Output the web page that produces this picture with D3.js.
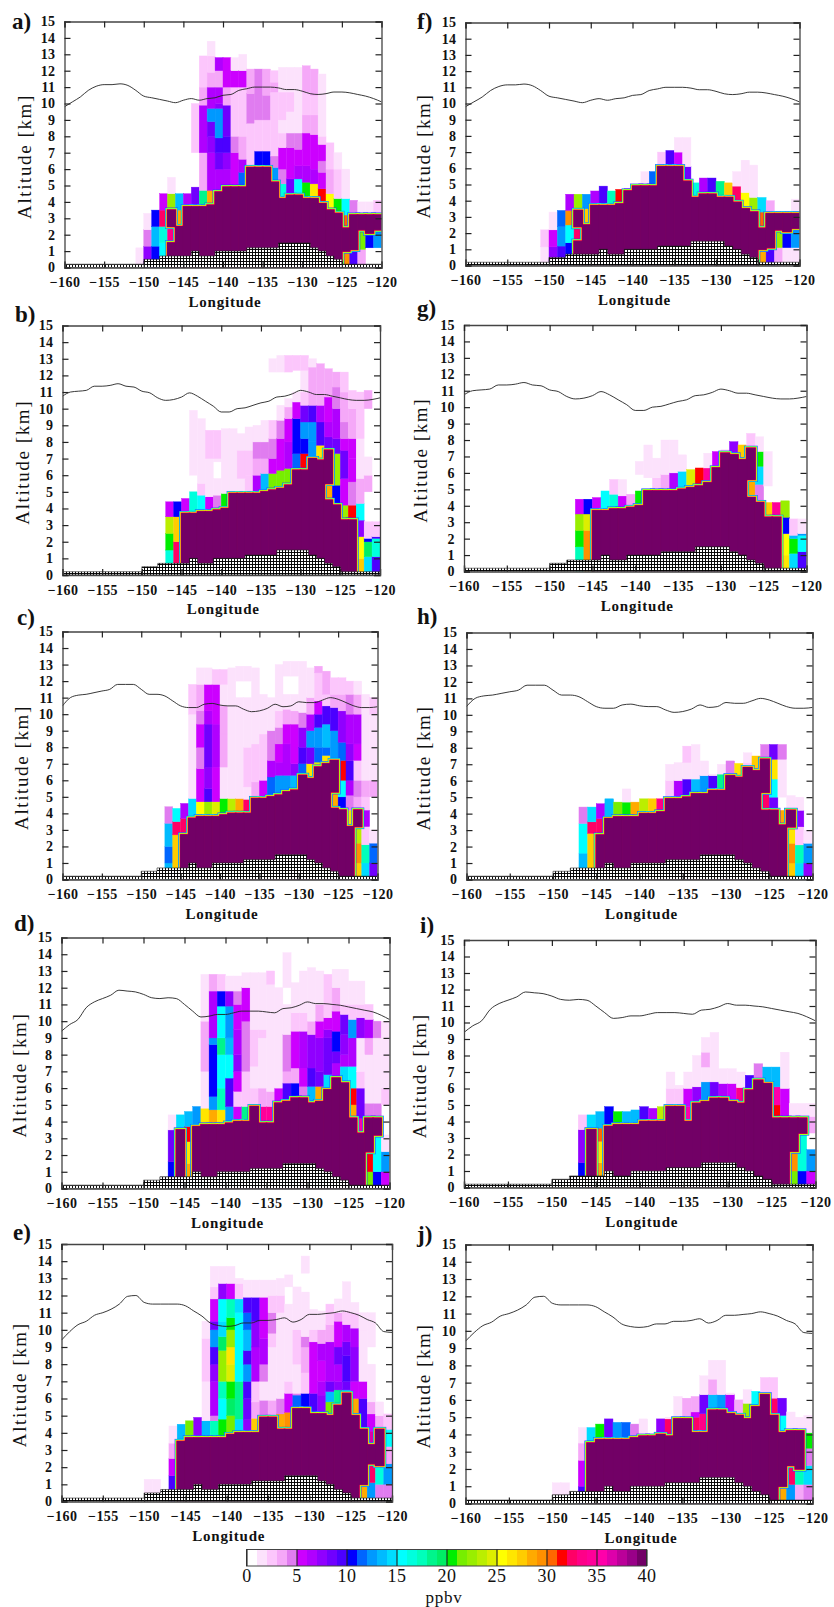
<!DOCTYPE html>
<html>
<head>
<meta charset="utf-8">
<script src="https://cdn.jsdelivr.net/npm/d3@7"></script>
<style>
body { margin: 0; background: #fff; }
text { font-family: "Liberation Serif", serif; fill: #111; }
.tick text { font-weight: bold; font-size: 14px; letter-spacing: 0.4px; }
</style>
</head>
<body>
<svg id="chart" width="834" height="1607"></svg>
<script>
// tick labels
var lonTicks = [-160, -155, -150, -145, -140, -135, -130, -125, -120];
var altTicks = [0, 1, 2, 3, 4, 5, 6, 7, 8, 9, 10, 11, 12, 13, 14, 15];
var barTicks = [0, 5, 10, 15, 20, 25, 30, 35, 40];

// colour of each 1 ppbv class, 0 to 39
var ppbvColors = ["#ffffff", "#fce2fc", "#fcc6fc", "#f5a8f8", "#e07cf0",
    "#cc00ff", "#b000ff", "#9000ff", "#7000ff", "#4c00ff",
    "#0000ff", "#0066ff", "#0099ff", "#00bbff", "#00ddff",
    "#00ffff", "#00ffdd", "#00ffbb", "#00f58c", "#00ee66",
    "#00ee00", "#77ee00", "#99ee00", "#bbee00", "#ddee00",
    "#ffff00", "#ffe600", "#ffcc00", "#ffaa00", "#ff9000",
    "#ff6600", "#ff0000", "#ff0066", "#ff0088", "#ff0099",
    "#ff00aa", "#dd00aa", "#bb0099", "#990088", "#720066"];

// ground height [km], one value per degree from -160
var terrainHeight = [0.2, 0.2, 0.2, 0.2, 0.2, 0.2, 0.2, 0.2, 0.2, 0.2,
    0.5, 0.5, 0.7, 0.7, 0.7, 0.7, 1, 0.7, 0.7, 1,
    1, 1, 1, 1.2, 1.2, 1.2, 1.2, 1.5, 1.5, 1.5,
    1.5, 1.2, 1, 0.7, 0.5, 0.2, 0.2, 0.2, 0.2, 0.2, 0.2];

// tropopause [km], one value per degree from -160
var tropopauseA = [9.8, 10.1, 10.4, 10.8, 11.05, 11.15, 11.15, 11.2, 11.1, 10.8, 10.45, 10.35, 10.25, 10.15, 10.05, 10.2, 10.3, 10.2, 10.3, 10.35, 10.5, 10.55, 10.8, 10.9, 11, 11, 11, 10.95, 10.85, 10.85, 10.75, 10.6, 10.55, 10.6, 10.7, 10.7, 10.65, 10.55, 10.45, 10.3, 10.1];
var tropopauseB = [10.75, 11, 11.05, 11.1, 11.35, 11.35, 11.4, 11.5, 11.35, 11.3, 11.05, 10.95, 10.65, 10.5, 10.55, 10.7, 10.95, 10.75, 10.45, 10.15, 9.8, 9.8, 10, 10.05, 10.2, 10.35, 10.45, 10.7, 10.75, 10.9, 11.1, 11, 10.85, 10.85, 10.75, 10.65, 10.55, 10.5, 10.5, 10.55, 10.65];
var tropopauseC = [10.5, 11, 11.15, 11.2, 11.3, 11.4, 11.5, 11.8, 11.8, 11.8, 11.5, 11.2, 11.2, 11.1, 10.8, 10.5, 10.4, 10.4, 10.6, 10.65, 10.55, 10.5, 10.5, 10.3, 10.15, 10.2, 10.35, 10.6, 10.45, 10.5, 10.75, 10.7, 10.7, 10.85, 11, 10.9, 10.7, 10.5, 10.4, 10.4, 10.45];
var tropopauseD = [9.4, 9.8, 10.1, 10.8, 11.15, 11.35, 11.55, 11.85, 11.8, 11.75, 11.6, 11.4, 11.35, 11.4, 11.35, 11, 10.6, 10.25, 10.3, 10.4, 10.4, 10.5, 10.6, 10.6, 10.6, 10.55, 10.5, 10.75, 10.8, 10.95, 11.15, 11.05, 11.05, 11, 10.95, 10.85, 10.75, 10.65, 10.55, 10.35, 10.1];
var tropopauseE = [9.4, 9.9, 10.3, 10.5, 10.85, 11, 11.2, 11.5, 11.95, 12, 11.6, 11.5, 11.5, 11.5, 11.5, 11.4, 11.1, 10.8, 10.4, 10.25, 10.2, 10.25, 10.4, 10.4, 10.55, 10.55, 10.6, 10.7, 10.45, 10.6, 10.9, 10.9, 10.95, 11, 11.1, 11, 10.85, 10.6, 10.4, 9.9, 9.85];

// one list per degree column from -152: ppbv, top [km], ppbv, top [km], ... going up from the ground
var columnsA = [[],
    [1,1.2], [7,1.3,4,2.3,1,3.3], [10,1.3,13,2.5,10,3.5], [15,1.5,16,2.5,32,3.5,5,4.5], [39,1.5,33,2.5,39,3.5,22,4.5,1,5.5],
    [39,2.5,28,3.5,13,4.5], [39,3.7,6,4.5], [39,3.7,8,4.9,0,7,2,10], [39,3.7,18,4.7,3,7,6,9.9,3,11,2,12.9],
    [39,3.8,28,4.7,6,7,7,8,8,8.9,12,9.7,6,11,3,11.9,2,12.9,1,13.8], [39,4.6,6,6,8,7,9,7.9,12,9.7,7,10,6,11,3,12,6,12.8],
    [39,4.9,6,6,7,7,9,8,8,9.9,3,11,5,12.8], [39,4.9,5,7,4,8,2,11,5,12,1,12.8], [39,4.9,11,5.8,6,6.6,3,8,2,11,5,12,1,13],
    [39,6.1,2,8.8,4,10.6,3,12.1], [39,6.1,10,7.1,2,9,4,12.1], [39,6.1,10,7.1,2,9,4,10.5,3,12.1],
    [39,5.2,12,6.1,4,6.8,2,10.7,3,11.3,2,12], [39,4.2,16,5.1,4,6,5,7.3,2,8.2,1,9,2,10.7,1,12.2], [39,4.4,8,5.4,5,7.3,4,8.2,1,9.5,2,10.7,1,12.2],
    [39,4.4,15,5.4,6,6.2,5,7.2,4,8.2,1,12.2], [39,4.2,20,5.2,6,6.2,5,8.2,3,9.3,2,10.7,3,12.3], [39,4.2,26,5.1,6,6,5,8.1,3,9.3,2,10.5,3,12.1],
    [39,3.9,31,4.8,5,5.8,4,6.5,5,7.5,2,8,1,11.8], [39,3.5,25,4.5,3,6,2,7.6], [39,3.3,20,4.2,2,6,1,7],
    [29,1,39,2.4,30,3.2,15,4.2,1,6], [9,1.1,39,3.2,4,4.1], [3,1.1,21,2.3,39,3.2,1,4], [0,1.2,10,2.1,39,3.2,1,4], [0,1.2,12,2.3,39,3.2,2,4.1]];

var columnsB = [[], [], [], [], [],
    [16,1.5,20,2.5,23,3.5,5,4.4], [32,2,27,3.5,10,4.4], [39,3.7,5,4.6], [39,3.7,16,5,0,6,1,9.9], [39,3.8,15,4.8,2,5.5,1,9.4],
    [39,3.8,5,4.7,1,7,2,8.7], [39,3.9,4,4.8,1,5.8,0,6.8,1,7,2,8.7], [39,4,20,4.9,1,8.8], [39,4.9,1,8.8], [39,4.9,1,5.8,2,7.5,1,8.5],
    [39,4.9,2,6,2,7.5,1,8.9], [39,4.9,6,6,3,7,4,8,1,9], [39,5,13,6.1,3,7,4,8,1,9.3], [39,5.1,21,6.1,5,7,4,8.2,2,9.3,0,12.2,1,13],
    [39,5.2,21,6.3,5,8.2,4,9.3,1,10.2,0,12.2,1,13.2], [39,5.4,21,6.4,6,8,5,9.4,3,10.1,1,10.6,0,12.2,2,13.2],
    [39,6.3,11,7.3,10,9.4,5,10.4,1,11,0,12.3,2,13.2], [39,6.3,31,7.3,10,8.2,12,9.2,8,10.2,2,11,1,12.3,2,13.2], [39,7,12,8,12,9.2,9,10.2,3,12.5,1,13],
    [39,6.9,26,7.8,9,9.2,6,10.2,3,12.7], [39,4.5,28,5.5,39,7.5,8,8.3,6,9.2,5,10.7,3,12.4], [39,4.2,10,5.4,22,7.3,8,8.2,6,10,4,11.3,3,12.2],
    [39,3.3,22,4.2,5,5.8,8,7.5,5,8.2,4,9.2,3,11,2,12.2], [39,3.3,31,4.2,4,5.6,5,7,5,8.2,3,10,2,11.1], [27,1,25,2.3,7,3.3,15,4.3,3,5.8,1,8.2,2,11],
    [14,1.1,19,2,10,2.2,2,3.2,0,5,3,6,1,7.1,0,10,3,11.1], [9,1.1,16,2.2,9,2.3,2,3.2]];

var columnsC = [[], [], [], [], [],
    [13,1,11,2,13,3.4,4,4.4], [27,2.7,32,3.5,15,4.3], [39,2.7,32,3.7,6,4.6], [39,3.7,14,4.9,1,10,2,11.8], [39,3.8,25,4.7,5,6.7,4,8,5,9.4,4,10.2,3,11.8,1,12.8],
    [39,3.8,22,4.7,9,5.5,7,6.8,8,9.4,6,10.2,5,11.8,1,12.8], [39,3.8,24,4.7,5,6.8,6,9.4,5,11.8,2,12.7], [39,3.9,20,4.9,1,6.8,3,8.8,3,10.5,1,11.8,2,12.7],
    [39,4,23,4.9,1,6.8,1,12.8], [39,4,28,4.9,1,11,0,12,1,12.9], [39,4,32,4.85,1,5.6,2,8,1,11,0,12,1,12.9], [39,4.9,3,5.9,2,8.2,1,12.8],
    [39,4.9,5,6,2,8.8,1,11.2], [39,5,11,6.2,6,7.2,4,9,1,11], [39,5.1,12,6.3,6,7.1,5,8.2,4,9.2,2,10.2,1,13], [39,5.3,12,6.3,6,8.2,5,9.4,3,10.3,1,11.2,0,12.3,1,13.2],
    [39,5.4,13,6.3,7,7,5,9.4,3,10.2,1,11.2,0,12.3,1,13.2], [39,6.3,11,7,9,8,7,9.2,4,10.1,1,13.2], [39,6.1,26,7,8,8,12,9,6,10,3,11,1,12.8],
    [39,6.8,24,7.1,11,8,12,9.2,9,10,5,10.8,2,12.5,3,12.9], [39,7,26,7.5,11,8,13,9.4,9,10.5,2,11.2,3,12.6], [39,4.3,28,5.3,39,7.2,12,9,9,10.4,3,11.2,2,12.2],
    [39,4.2,10,5,15,6,31,7.2,11,8.3,7,10.2,3,11.2,2,12.2], [39,3.2,26,4.2,4,5.1,6,6,9,7.2,7,8.2,6,10,4,11.2,2,12], [27,1,29,2.2,23,3.2,39,4.2,3,5,4,6,2,7.2,5,8.2,6,10,3,11.2,1,12],
    [14,1,17,2.1,2,3.2,6,4.2,2,5,3,6,1,11.2], [8,1,11,2.2,1,3,0,5,3,6,1,10,2,11]];

var columnsD = [[], [], [], [], [],
    [10,1.6,8,3.5,1,4.4], [39,3.5,14,4.4], [28,1.5,26,2.8,31,3.7,13,4.6], [39,3.7,12,4.9], [39,3.8,26,4.8,1,7,3,10,1,12.8],
    [39,3.8,28,4.7,12,5.5,10,8.6,12,9,6,11.8,3,12.8], [39,3.8,26,4.7,17,6,15,8,18,9,15,10.9,10,11.8,2,12.8], [39,3.9,12,4.9,9,6.6,15,8,13,9,12,10.9,7,11.8,1,12.7],
    [39,4,5,4.9,2,5.8,5,7,7,8,6,9.5,5,11,4,11.8,1,12.7], [39,4,18,4.9,2,7,4,10,5,12,1,12.9], [39,4.9,2,6,1,7.3,2,9.5,1,12.9],
    [39,3.9,34,4.9,3,6,1,9,2,9.5,1,12.9], [39,3.9,34,4.9,3,5.8,1,12.2,2,13], [39,5.1,5,6,1,12,0,12.5], [39,5.2,9,6.3,3,7,4,9.2,1,11,0,12,1,14.1],
    [39,5.4,10,6.3,3,7.2,5,9.4,2,10.5,1,12.3], [39,5.4,4,6.1,5,7.2,6,9.4,2,10.5,1,13], [39,5.1,13,6.1,9,7.2,7,9.2,3,10,1,13.2],
    [39,5.2,28,6.1,8,7,7,9,5,10,3,11,1,13], [39,5.9,14,6.8,8,7.5,8,9,7,9.5,5,10.2,2,12.8], [39,6.6,6,7.5,8,8.2,10,9.4,5,10.6,3,12,1,13.1],
    [39,6.3,14,7.3,6,8,7,9.2,8,10.4,2,11,1,13.1], [39,4.2,28,5,31,6,15,7.3,6,9,12,10.1,2,11,1,12.4], [39,3.3,35,4.2,8,6,2,7,1,9,7,10.2,2,11,1,12.4],
    [21,1,31,2.2,39,4.2,4,5.1,1,8,3,9,6,10.1,2,11], [10,1,15,3.2,39,4.2,4,5.1,1,9,4,10], [5,1,12,2.2,1,3.2,0,5,2,6,1,10]];

var columnsE = [[], [], [1,1.3], [1,1.3], [],
    [9,1.5,5,2.5,3,3.4,1,4.4], [39,3.5,13,4.5], [39,3.7,21,4.7], [39,3.7,7,4.9], [39,3.7,13,4.7,1,7,2,9.5,1,10.5],
    [39,3.7,17,4.7,4,5,6,7,7,8,9,9,12,10,8,10.5,5,11.8,2,12.5,1,13.7], [39,3.7,20,4.8,15,6,17,7,22,8.8,19,9.6,14,10.5,15,11.8,7,12.7,1,13.7],
    [39,3.9,21,5,19,6,20,7,24,8,26,9,22,10,20,10.7,17,11.8,5,12.7,1,13.7], [39,4,14,4.8,18,7,15,11,14,11.8,2,12.7,1,13],
    [39,4,7,4.8,8,6,9,7,12,8,9,8.8,13,10,11,11,9,11.9,1,12.9], [39,4,27,4.85,3,5.8,2,7,6,9,7,10.5,9,11.9,1,12.9],
    [39,4.9,4,5.9,1,7,4,8,6,9.5,5,11.9,1,12.9], [39,4.9,3,5.9,1,9,2,9.8,4,11,2,12,1,12.9], [39,4.2,28,5.1,4,6,1,11,2,12,1,13],
    [39,4.2,29,5.2,5,6.3,2,7,1,11.5,0,12.5,1,13.2], [39,5.4,11,6.2,4,6.3,1,8,2,10,1,12.5], [39,5.4,10,6.3,2,7.5,3,9,4,9.6,1,12.2,0,13.3,1,14.3],
    [39,5.1,9,6.3,5,9.3,2,10,1,11.2], [39,5.1,7,6.2,6,7,5,8.2,6,9.2,3,10,1,11.1], [39,5,21,5.8,13,6.4,8,7,6,9.3,3,10.3,2,11.5],
    [39,5.6,18,6.5,7,7,6,8,8,9,5,10.5,3,11,1,11.8], [39,6.3,14,6.5,8,7,9,8.5,8,9.3,6,10.3,2,11.1,1,12.8], [39,5,28,6,5,7,7,9,6,10.1,2,11,1,11.6],
    [28,1,39,4.2,9,6,5,7,1,10,1,11], [12,1.1,32,2.2,39,3.3,36,4.1,5,5.1,3,5.8,1,8,0,9,1,11], [4,1,16,2.1,39,4.2,3,5,1,5.8], [4,1,12,2.2,3,3.2,15,4.2,2,5.1]];

var columnsF = [[],
    [1,1.15,2,2.2], [7,1.15,5,2.2,1,3.3], [9,1.2,12,2.4,11,3.4], [10,1.4,15,2.5,29,3.4,6,4.4], [39,1.5,32,2.4,39,3.4,22,4.4],
    [39,2.5,27,3.5,12,4.4], [39,3.7,6,4.6], [39,3.7,9,4.9], [39,3.7,17,4.6], [39,3.8,31,4.7], [39,4.6,5,4.75], [39,4.9,8,5],
    [39,4.9,6,5,1,5.8], [39,4.9,11,5.8], [39,6.1,2,7], [39,6.1,9,7.1], [39,6.1,5,7,1,7.9], [39,5.2,8,6.1,1,7.9], [39,4.2,16,5.1],
    [39,4.4,6,5.4], [39,4.4,9,5.4], [39,4.2,18,5.2], [39,4.2,27,5.1], [39,3.9,32,4.9,1,5.8], [39,3.5,25,4.5,1,6.5], [39,3.3,22,4.2,1,6.2],
    [28,1,39,2.3,30,3.3,14,4.2], [9,1.1,39,3.2,3,4], [3,1.1,22,2.2,39,3.2], [1,1.1,10,2.1,39,3.2], [1,1.1,12,2.3,39,3.2,1,4.1]];

var columnsG = [[], [], [], [], [],
    [17,1.5,20,2.5,22,3.5,5,4.4], [29,2.5,24,3.5,10,4.4], [39,3.7,5,4.5], [39,3.7,15,4.9], [39,3.8,16,4.7,2,5.6], [39,3.8,5,4.6,1,5.6], [39,3.9,3,4.7],
    [39,4,20,4.9,0,5.9,1,6.7], [39,4.9,0,5.7,1,7.7], [39,4.9,2,5.7,1,6.9], [39,4.9,3,5.9,1,8], [39,4.9,6,6,1,8], [39,5,14,6.1,1,7.1], [39,5.1,24,6.2],
    [39,5.2,31,6.3], [39,5.4,34,6.3,1,7.2], [39,6.3,5,7.3], [39,7.2,2,7.4], [39,7.1,7,7.9], [39,6.8,27,7.7], [39,4.5,28,5.6,39,7.5,2,8.4],
    [39,4.2,4,5.3,14,6.4,20,7.3,1,8.2], [39,3.3,27,4.2,0,5.2,1,7.3], [39,3.3,34,4.2], [26,1,25,2.3,10,3.3,22,4.3], [14,1.1,20,2,13,2.2,2,3.2], [9,1.2,15,2.2,12,2.3,1,3.2]];

var columnsH = [[], [], [], [], [],
    [13,1.6,15,3.4,4,4.4], [27,2.8,32,3.5,14,4.4], [39,2.7,32,3.7,6,4.6], [39,3.7,13,4.9], [39,3.8,21,4.7], [39,3.8,20,4.7,1,5.5], [39,3.8,28,4.7],
    [39,4,23,4.9], [39,4,27,4.9], [39,4.1,33,4.9], [39,4.9,2,6,1,7], [39,4.9,6,6,1,7.1], [39,5,9,6.1,1,7.1,2,8.1], [39,5.2,13,6.1,1,8.2], [39,5.2,12,6.3,1,7.2],
    [39,5.4,9,6.3,1,6.4], [39,5.4,18,6.4,1,7], [39,6.3,4,7.2], [39,6.2,26,7.05], [39,6.8,2,7.1,1,7.7], [39,6.6,27,7.5], [39,4.2,32,5.3,39,7.3,4,8.2],
    [39,4.2,8,5,15,6.1,26,7.3,8,8.2], [39,3.3,28,4.2,0,5,1,7.3,4,8.2], [27,1,29,2.2,26,3.2,39,4.2,1,5.1], [14,1,17,2.1,2,3.2,7,4.2,1,5], [7,1,12,2.2,1,3]];

var columnsI = [[], [], [], [], [],
    [10,1.5,7,3.5,2,4.4], [39,3.5,14,4.4], [28,1.5,26,2.8,30,3.6,13,4.6], [39,3.7,10,4.9], [39,3.8,20,4.6], [39,3.8,13,4.6], [39,3.8,13,4.7], [39,4,9,4.9],
    [39,4,6,4.8], [39,4,23,4.9], [39,4.9,2,6,1,7], [39,4.9,2,6,1,6.2], [39,4,35,4.9,5,6,1,7], [39,5.1,7,6.1,1,8], [39,5.2,12,6.4,1,7.3,3,8.2,1,9.1],
    [39,5.4,8,6.4,1,9.4], [39,5.4,6,6.3,1,7.2], [39,5.2,5,6.3,1,7.2], [39,5.1,33,6.05,1,7], [39,5.9,9,6.8], [39,6.5,4,7.5], [39,6.3,13,7.3],
    [39,4.2,31,5,35,6.1,13,7.3], [39,4.2,5,6,1,8.2], [21,1,29,2.2,39,4.2,1,5.1], [10,1,16,3.3,39,4.2,1,5.1], [5,1,12,2.3,0,3.3,3,4.3,1,5.1]];

var columnsJ = [[], [], [1,1.2], [1,1.2], [],
    [9,1,5,2.5,3,3.5,1,4.4], [39,3.5,14,4.4], [39,3.7,20,4.6], [39,3.7,8,4.9], [39,3.7,12,4.7], [39,3.7,11,4.7], [39,3.8,4,4.6], [39,3.9,10,4,1,4.9],
    [39,3.9,10,4], [39,4,7,4.9], [39,3.9,32,4.9,1,5], [39,4.9,1,6.2], [39,4.9,3,6.1], [39,4.1,32,5,5,5.3,3,6.2], [39,4.1,33,5.2,8,6.3,1,7.4],
    [39,5.4,13,6.3,3,7.2,1,8.3], [39,5.4,12,6.3,1,8.3], [39,5.2,6,6.3,1,6.4], [39,5.1,3,6], [39,4.9,22,5.8,1,6.6], [39,5.6,15,6.5], [39,6.3,10,6.4,2,7.3],
    [39,5.1,32,6.1,2,7.3], [28,1,39,4.1,15,5.1,8,6.1], [12,1.1,32,2.2,39,4.2,1,5.3], [3,1.1,17,2,39,4.2,1,5], [4,1.1,14,2.2,4,3.2,20,4.1,1,5.1]];

var lonStart = -152;
var darkClass = 39;

// page layout of the ten frames
var panels = [
    {name: "a)", cols: columnsA, trop: tropopauseA, x0: 64.5, x1: 381.5, y0: 21.5, y1: 267.5, titleX: 27, nameX: 12, nameY: 29},
    {name: "b)", cols: columnsB, trop: tropopauseB, x0: 62.5, x1: 380, y0: 325.5, y1: 575, titleX: 25, nameX: 15, nameY: 322},
    {name: "c)", cols: columnsC, trop: tropopauseC, x0: 62.5, x1: 377.5, y0: 631.5, y1: 879.5, titleX: 24, nameX: 17, nameY: 625},
    {name: "d)", cols: columnsD, trop: tropopauseD, x0: 61.5, x1: 389.5, y0: 937.5, y1: 1188.5, titleX: 22, nameX: 14, nameY: 931},
    {name: "e)", cols: columnsE, trop: tropopauseE, x0: 61.5, x1: 392, y0: 1244, y1: 1501.5, titleX: 22, nameX: 13, nameY: 1240},
    {name: "f)", cols: columnsF, trop: tropopauseA, x0: 465.5, x1: 799.5, y0: 22.5, y1: 265.5, titleX: 426, nameX: 417, nameY: 29},
    {name: "g)", cols: columnsG, trop: tropopauseB, x0: 464, x1: 806.5, y0: 325, y1: 571.5, titleX: 423, nameX: 417, nameY: 316},
    {name: "h)", cols: columnsH, trop: tropopauseC, x0: 466.5, x1: 812.5, y0: 632.5, y1: 879.5, titleX: 426, nameX: 417, nameY: 624},
    {name: "i)", cols: columnsI, trop: tropopauseD, x0: 464, x1: 815.5, y0: 940, y1: 1187.5, titleX: 422, nameX: 420, nameY: 933},
    {name: "j)", cols: columnsJ, trop: tropopauseE, x0: 465.5, x1: 812.5, y0: 1244.5, y1: 1503.5, titleX: 426, nameX: 417, nameY: 1242}
];

var svg = d3.select("#chart");
var defs = svg.append("defs");

defs.append("filter").attr("id", "soft")
    .attr("x", "-5%").attr("y", "-5%").attr("width", "110%").attr("height", "110%")
    .append("feGaussianBlur").attr("stdDeviation", 0.4);

// hatching used for the ground
var hatch = defs.append("pattern").attr("id", "hatch")
    .attr("patternUnits", "userSpaceOnUse").attr("width", 3).attr("height", 3);
hatch.append("rect").attr("width", 3).attr("height", 3).attr("fill", "#fff");
hatch.append("path").attr("d", "M0.5 0V3M0 0.5H3").attr("stroke", "#000").attr("stroke-width", 0.95);

svg.append("rect").attr("width", 834).attr("height", 1607).attr("fill", "#fff");

panels.forEach(function (p, n) {
    drawPanel(p, n);
});
drawColorbar();

function drawPanel(p, n) {
    var x = d3.scaleLinear().domain([-160, -120]).range([p.x0, p.x1]);
    var y = d3.scaleLinear().domain([0, 15]).range([p.y1, p.y0]);

    defs.append("clipPath").attr("id", "clip" + n).append("rect")
        .attr("x", p.x0).attr("y", p.y0)
        .attr("width", p.x1 - p.x0).attr("height", p.y1 - p.y0);

    // columns -> cells
    var cells = [];
    p.cols.forEach(function (col, i) {
        var z = 0;
        for (var k = 0; k < col.length; k += 2) {
            if (col[k] > 0) {
                cells.push({lon: lonStart + i, z0: z, z1: col[k + 1], v: col[k]});
            }
            z = col[k + 1];
        }
    });
    var dark = cells.filter(function (d) { return d.v == darkClass; });
    var light = cells.filter(function (d) { return d.v != darkClass; });

    var plot = svg.append("g").attr("clip-path", "url(#clip" + n + ")");
    var soft = plot.append("g").attr("filter", "url(#soft)");

    function addRects(g, data) {
        return g.selectAll("rect").data(data).enter().append("rect")
            .attr("x", function (d) { return x(d.lon); })
            .attr("y", function (d) { return y(d.z1); })
            .attr("width", function (d) { return x(d.lon + 1) - x(d.lon); })
            .attr("height", function (d) { return y(d.z0) - y(d.z1); });
    }

    addRects(soft.append("g"), light)
        .attr("fill", function (d) { return ppbvColors[d.v]; })
        .attr("stroke", function (d) { return ppbvColors[d.v]; })
        .attr("stroke-width", 0.4);

    // thin rainbow edge round the saturated block
    [["#3030ff", 5], ["#00ffff", 4.2], ["#66ff00", 3.4], ["#ffff00", 2.8], ["#ff0050", 1.9]].forEach(function (edge) {
        addRects(soft.append("g"), dark)
            .attr("fill", edge[0]).attr("stroke", edge[0]).attr("stroke-width", edge[1]);
    });
    addRects(soft.append("g"), dark)
        .attr("fill", ppbvColors[darkClass])
        .attr("stroke", ppbvColors[darkClass]).attr("stroke-width", 0.9);

    // ground
    var area = d3.area().curve(d3.curveStepAfter)
        .x(function (d, i) { return x(-160 + i); })
        .y0(y(0))
        .y1(function (d) { return y(d); });
    plot.append("path").datum(terrainHeight).attr("d", area)
        .attr("fill", "url(#hatch)").attr("stroke", "#222").attr("stroke-width", 0.6);

    // tropopause
    var line = d3.line().curve(d3.curveMonotoneX)
        .x(function (d, i) { return x(-160 + i); })
        .y(function (d) { return y(d); });
    plot.append("path").datum(p.trop).attr("d", line)
        .attr("fill", "none").attr("stroke", "#222").attr("stroke-width", 0.9);

    // axes with inward ticks on all four sides
    var bottom = d3.axisBottom(x).tickValues(lonTicks).tickFormat(d3.format("d"))
        .tickSize(-6).tickPadding(10);
    var left = d3.axisLeft(y).tickValues(altTicks).tickFormat(d3.format("d"))
        .tickSize(-6).tickPadding(9);
    var top = d3.axisTop(x).tickValues(lonTicks).tickFormat("").tickSize(-6);
    var right = d3.axisRight(y).tickValues(altTicks).tickFormat("").tickSize(-6);

    [[bottom, 0, p.y1], [left, p.x0, 0], [top, 0, p.y0], [right, p.x1, 0]].forEach(function (a) {
        var g = svg.append("g")
            .attr("transform", "translate(" + a[1] + "," + a[2] + ")")
            .call(a[0]);
        g.select(".domain").attr("stroke", "#444").attr("stroke-width", 1.3);
        g.selectAll(".tick line").attr("stroke", "#222").attr("stroke-width", 1.2);
    });

    var midY = (p.y0 + p.y1) / 2 + 12;
    svg.append("text")
        .attr("transform", "translate(" + p.titleX + "," + midY + ") rotate(-90)")
        .attr("text-anchor", "middle").attr("dominant-baseline", "middle")
        .attr("font-size", 19).attr("letter-spacing", 1.6)
        .text("Altitude [km]");

    svg.append("text")
        .attr("x", (p.x0 + p.x1) / 2 + 2).attr("y", p.y1 + 39)
        .attr("text-anchor", "middle").attr("font-size", 15).attr("font-weight", "bold")
        .attr("letter-spacing", 0.8)
        .text("Longitude");

    svg.append("text")
        .attr("x", p.nameX).attr("y", p.nameY)
        .attr("font-size", 23).attr("font-weight", "bold")
        .text(p.name);
}

function drawColorbar() {
    var bx = d3.scaleLinear().domain([0, 40]).range([246.5, 646.5]);
    var top = 1549.5, height = 16.5;

    svg.append("g").attr("shape-rendering", "crispEdges")
        .selectAll("rect").data(ppbvColors).enter().append("rect")
        .attr("x", function (d, i) { return bx(i); })
        .attr("y", top)
        .attr("width", function (d, i) { return bx(i + 1) - bx(i); })
        .attr("height", height)
        .attr("fill", function (d) { return d; });

    svg.append("rect").attr("x", bx(0)).attr("y", top)
        .attr("width", bx(40) - bx(0)).attr("height", height)
        .attr("fill", "none").attr("stroke", "#444").attr("stroke-width", 1);

    var axis = d3.axisBottom(bx).tickValues(barTicks).tickFormat(d3.format("d"))
        .tickSize(-height).tickPadding(3);
    var g = svg.append("g").attr("transform", "translate(0," + (top + height) + ")").call(axis);
    g.select(".domain").remove();
    g.selectAll(".tick line").attr("stroke", "#222").attr("stroke-width", 1.1);
    g.selectAll(".tick text").style("font-size", "18px").style("font-weight", "normal");

    svg.append("text").attr("x", 444).attr("y", 1603)
        .attr("text-anchor", "middle").attr("font-size", 17).attr("letter-spacing", 0.8)
        .text("ppbv");
}
</script>
</body>
</html>
